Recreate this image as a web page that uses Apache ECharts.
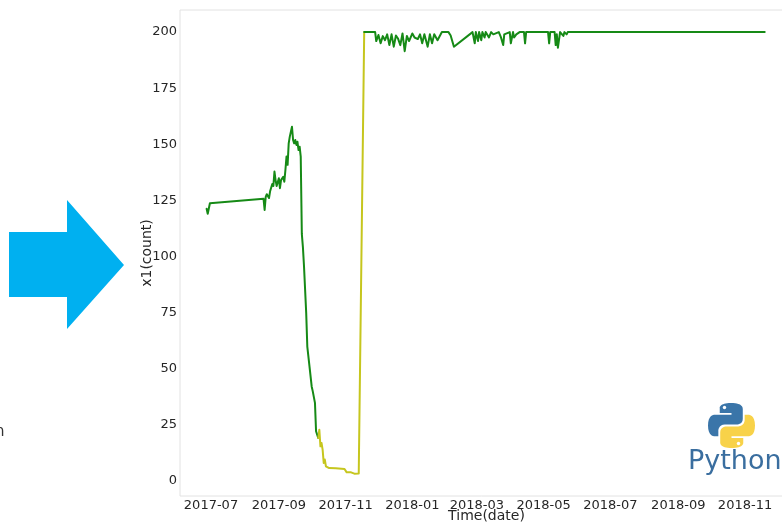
<!DOCTYPE html>
<html>
<head>
<meta charset="utf-8">
<script src="https://cdn.jsdelivr.net/npm/echarts@6/dist/echarts.min.js"></script>
<style>
  html, body { margin: 0; padding: 0; background: #ffffff; }
  #chart { width: 782px; height: 523px; }
</style>
</head>
<body>
<div id="chart"></div>
<script>
// Daily counts of x1, split into the three coloured runs of the line.
const earlyDates = [
  '2017-06-27','2017-06-28','2017-06-30','2017-08-18','2017-08-19','2017-08-20','2017-08-21',
  '2017-08-23','2017-08-24','2017-08-26','2017-08-27','2017-08-28','2017-08-29','2017-08-30',
  '2017-09-01','2017-09-02','2017-09-03','2017-09-05','2017-09-06','2017-09-07','2017-09-08',
  '2017-09-09','2017-09-10','2017-09-11','2017-09-13','2017-09-14','2017-09-15','2017-09-16',
  '2017-09-17','2017-09-18','2017-09-19','2017-09-20','2017-09-21','2017-09-22','2017-09-23',
  '2017-09-24','2017-09-26','2017-09-27','2017-09-29','2017-10-01','2017-10-02','2017-10-04',
  '2017-10-05','2017-10-07'
];
const earlyCounts = [
  121.2, 119, 123.7, 125.7, 120.7, 126.5, 127.7,
  126, 129, 132.3, 131.4, 137.8, 134, 131.4,
  134.8, 130.4, 134, 135.5, 133.3, 138.5, 144.5,
  140.8, 150.4, 153.4, 157.8, 151.9, 150.4, 151.9,
  149.7, 151.1, 147.4, 148.9, 144.5, 110, 104,
  95.5, 74.7, 59.8, 50.9, 42, 39.8, 34.7,
  22, 19
];

const lowDates = [
  '2017-10-07','2017-10-08','2017-10-09','2017-10-10','2017-10-11','2017-10-12','2017-10-13',
  '2017-10-14','2017-10-17','2017-10-23','2017-10-31','2017-11-02','2017-11-06','2017-11-09',
  '2017-11-10','2017-11-13','2017-11-18'
];
const lowCounts = [
  19, 22.7, 15.3, 16.8, 13.8, 7.9, 9.4,
  6.4, 5.6, 5.5, 5.2, 3.7, 3.7, 3.1,
  2.7, 3.2, 200
];

const lateDates = [
  '2017-11-18','2017-11-28','2017-11-29','2017-12-01','2017-12-03','2017-12-05','2017-12-07',
  '2017-12-09','2017-12-11','2017-12-13','2017-12-15','2017-12-17','2017-12-19','2017-12-21',
  '2017-12-23','2017-12-25','2017-12-27','2017-12-29','2018-01-01','2018-01-03','2018-01-06',
  '2018-01-08','2018-01-10','2018-01-12','2018-01-15','2018-01-17','2018-01-19','2018-01-21',
  '2018-01-24','2018-01-28','2018-02-03','2018-02-05','2018-02-08','2018-02-25','2018-02-27',
  '2018-02-28','2018-03-02','2018-03-03','2018-03-05','2018-03-06','2018-03-08','2018-03-09',
  '2018-03-12','2018-03-14','2018-03-16','2018-03-21','2018-03-23','2018-03-25','2018-03-26',
  '2018-03-31','2018-04-01','2018-04-03','2018-04-04','2018-04-06','2018-04-07','2018-04-09',
  '2018-04-13','2018-04-14','2018-04-15','2018-05-05','2018-05-06','2018-05-07','2018-05-11',
  '2018-05-12','2018-05-13','2018-05-14','2018-05-16','2018-05-19','2018-05-20','2018-05-22',
  '2018-05-23','2018-11-19'
];
const lateCounts = [
  200, 200, 196, 198.7, 195, 198.2, 196.4,
  199, 194.2, 199, 193.5, 198.5, 197, 194.2,
  199.4, 191.5, 198.3, 196, 199.4, 197.6, 196.9,
  199, 195, 199, 193.5, 199, 195, 199,
  196.4, 200, 200, 198.5, 193.5, 200, 195,
  200, 196, 200, 196.4, 200, 197.6, 200,
  197.6, 200, 199, 200, 197.6, 194.2, 199,
  200, 195, 200, 197.6, 199, 198.3, 200,
  200, 195, 200, 200, 195, 200, 200,
  194.2, 199, 193, 200, 198.3, 200, 199,
  200, 200
];

// Tick positions
const monthTicks = ['2017-07','2017-09','2017-11','2018-01','2018-03','2018-05','2018-07','2018-09','2018-11'];
const countTicks = [0, 25, 50, 75, 100, 125, 150, 175, 200];

const DAY = 86400000;
const toTime = s => {
  const p = s.split('-').map(Number);
  return new Date(p[0], p[1] - 1, p[2] || 1).getTime();
};
const pairs = (dates, vals) => dates.map((d, i) => [toTime(d), vals[i]]);

const july = toTime('2017-07-01');
const xMin = july - 28.33 * DAY;
const xMax = july + 531.85 * DAY;

const GREEN = '#168a16';
const YELLOW = '#c6c61e';
const FONT = 'DejaVu Sans';

// Two halves of the Python snake logo, drawn in a 100x100 box
echarts.graphic.registerShape('snakeTop', echarts.graphic.extendPath(
  'M49 0C24 0 25 11 25 11L25 22L50 22L50 26L15 26C15 26 0 24 0 50C0 75 14 74 14 74L22 74L22 62C22 62 22 48 36 48L61 48C61 48 74 48 74 35L74 13C74 13 76 0 49 0Z', {}
));
echarts.graphic.registerShape('snakeBottom', echarts.graphic.extendPath(
  'M51 100C76 100 75 89 75 89L75 78L50 78L50 74L85 74C85 74 100 76 100 50C100 25 86 26 86 26L78 26L78 38C78 38 78 52 64 52L39 52C39 52 26 52 26 65L26 87C26 87 24 100 51 100Z', {}
));

const chart = echarts.init(document.getElementById('chart'), null, { renderer: 'canvas' });

const lineSeries = (data, color) => ({
  type: 'line',
  data: data,
  showSymbol: false,
  symbol: 'none',
  animation: false,
  lineStyle: { color: color, width: 2, join: 'round', cap: 'round' },
  emphasis: { disabled: true }
});

chart.setOption({
  backgroundColor: '#ffffff',
  animation: false,
  grid: {
    left: 180, top: 10, width: 613, height: 486,
    containLabel: false,
    outerBoundsMode: 'none',
    show: true, borderColor: '#e2e2e2', borderWidth: 1,
    backgroundColor: 'transparent'
  },
  xAxis: {
    type: 'value',
    min: xMin,
    max: xMax,
    scale: true,
    name: 'Time(date)',
    nameLocation: 'middle',
    nameGap: 13,
    nameMoveOverlap: false,
    nameTextStyle: { fontFamily: FONT, fontSize: 14, color: '#262626', verticalAlign: 'top' },
    axisLine: { show: false },
    axisTick: { show: false },
    splitLine: { show: false },
    axisLabel: {
      customValues: monthTicks.map(toTime),
      margin: 3,
      fontFamily: FONT,
      fontSize: 13,
      color: '#262626',
      hideOverlap: false,
      formatter: v => {
        const d = new Date(v);
        return d.getFullYear() + '-' + String(d.getMonth() + 1).padStart(2, '0');
      }
    }
  },
  yAxis: {
    type: 'value',
    min: -6.85,
    max: 209.85,
    name: 'x1(count)',
    nameLocation: 'middle',
    nameRotate: 90,
    nameGap: 26,
    nameMoveOverlap: false,
    nameTextStyle: { fontFamily: FONT, fontSize: 14, color: '#262626', verticalAlign: 'bottom' },
    axisLine: { show: false },
    axisTick: { show: false },
    splitLine: { show: false },
    axisLabel: {
      customValues: countTicks,
      margin: 3,
      fontFamily: FONT,
      fontSize: 13,
      color: '#262626'
    }
  },
  series: [
    lineSeries(pairs(earlyDates, earlyCounts), GREEN),
    lineSeries(pairs(lowDates, lowCounts), YELLOW),
    lineSeries(pairs(lateDates, lateCounts), GREEN)
  ],
  graphic: [
    {
      type: 'polygon',
      silent: true,
      shape: { points: [[9, 232], [67, 232], [67, 200], [124, 265], [67, 329], [67, 297], [9, 297]] },
      style: { fill: '#00b0f0' }
    },
    {
      type: 'text',
      silent: true,
      x: -5, y: 425,
      style: { text: 'n', font: '15px "DejaVu Sans"', fill: '#333333' }
    },
    {
      type: 'snakeTop',
      silent: true,
      x: 708, y: 403, scaleX: 0.47, scaleY: 0.45,
      style: { fill: '#3a75a9' }
    },
    {
      type: 'snakeBottom',
      silent: true,
      x: 708, y: 403, scaleX: 0.47, scaleY: 0.45,
      style: { fill: '#f8d249' }
    },
    { type: 'circle', silent: true, shape: { cx: 724.5, cy: 407.5, r: 1.7 }, style: { fill: '#ffffff' } },
    { type: 'circle', silent: true, shape: { cx: 738.5, cy: 443.5, r: 1.7 }, style: { fill: '#ffffff' } },
    {
      type: 'text',
      silent: true,
      x: 688, y: 448,
      style: { text: 'Python', font: '27px "DejaVu Sans"', fill: '#3a6e9f' }
    }
  ]
});
</script>
</body>
</html>
